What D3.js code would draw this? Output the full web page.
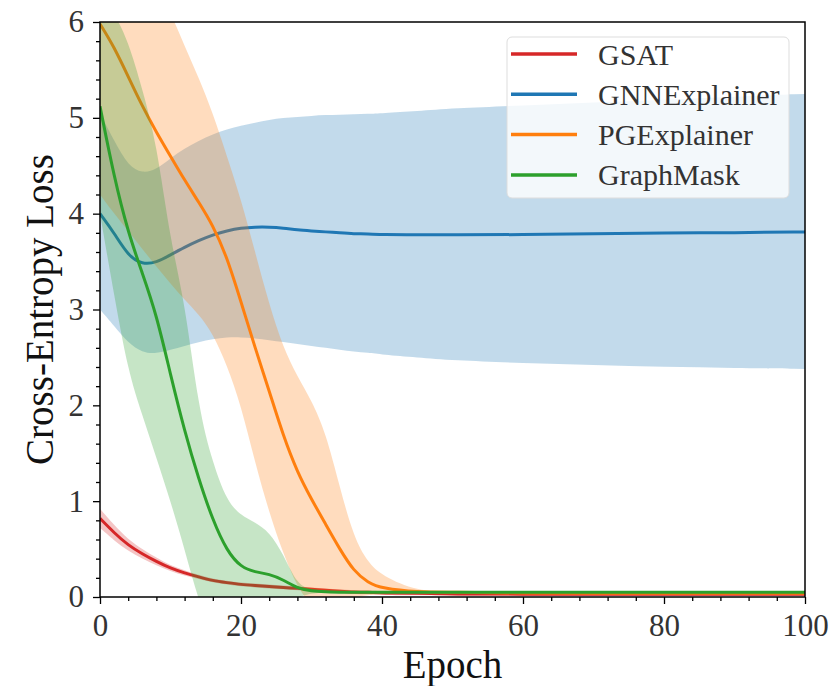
<!DOCTYPE html>
<html>
<head>
<meta charset="utf-8">
<script src="https://cdn.jsdelivr.net/npm/d3@7"></script>
<style>
  body { margin: 0; background: #fff; }
  svg { display: block; }
</style>
</head>
<body>
<div id="chart"></div>
<script>
var epochs = [0, 2, 4, 6, 8, 10, 12, 14, 16, 18, 20, 22, 24, 26, 28, 30, 32, 34, 36, 38, 40, 45, 50, 60, 70, 80, 90, 100];

var seriesNames = ['GSAT', 'GNNExplainer', 'PGExplainer', 'GraphMask'];
var seriesColors = ['#d62728', '#1f77b4', '#ff7f0e', '#2ca02c'];

// GSAT
var gsatMean = [0.82, 0.67, 0.54, 0.45, 0.37, 0.30, 0.25, 0.21, 0.17, 0.15, 0.13, 0.12, 0.11, 0.10, 0.09, 0.08, 0.07, 0.06, 0.05, 0.05, 0.04, 0.04, 0.03, 0.03, 0.03, 0.03, 0.03, 0.03];
var gsatLow = [0.72, 0.59, 0.48, 0.40, 0.33, 0.27, 0.22, 0.19, 0.15, 0.13, 0.11, 0.10, 0.09, 0.08, 0.07, 0.06, 0.05, 0.04, 0.03, 0.03, 0.02, 0.02, 0.01, 0.01, 0.01, 0.01, 0.01, 0.01];
var gsatHigh = [0.92, 0.75, 0.60, 0.50, 0.41, 0.33, 0.28, 0.23, 0.19, 0.17, 0.15, 0.14, 0.13, 0.12, 0.11, 0.10, 0.09, 0.08, 0.07, 0.07, 0.06, 0.06, 0.05, 0.05, 0.05, 0.05, 0.05, 0.05];

// GNNExplainer
var gnnMean = [4.00, 3.80, 3.56, 3.47, 3.49, 3.57, 3.65, 3.72, 3.78, 3.82, 3.85, 3.86, 3.86, 3.85, 3.83, 3.82, 3.81, 3.80, 3.79, 3.79, 3.78, 3.78, 3.78, 3.78, 3.79, 3.80, 3.80, 3.81];
var gnnLow = [3.00, 2.83, 2.65, 2.55, 2.54, 2.58, 2.62, 2.66, 2.69, 2.71, 2.71, 2.70, 2.68, 2.66, 2.64, 2.62, 2.60, 2.58, 2.56, 2.55, 2.53, 2.50, 2.47, 2.44, 2.42, 2.40, 2.39, 2.38];
var gnnHigh = [5.05, 4.76, 4.50, 4.42, 4.46, 4.58, 4.68, 4.76, 4.83, 4.88, 4.92, 4.95, 4.98, 5.00, 5.01, 5.02, 5.03, 5.03, 5.04, 5.04, 5.05, 5.07, 5.10, 5.13, 5.16, 5.19, 5.22, 5.25];

// PGExplainer
var pgMean = [5.98, 5.74, 5.43, 5.12, 4.85, 4.60, 4.35, 4.12, 3.88, 3.55, 3.08, 2.60, 2.15, 1.68, 1.30, 1.02, 0.76, 0.50, 0.27, 0.15, 0.09, 0.05, 0.05, 0.04, 0.04, 0.04, 0.04, 0.04];
var pgLow = [4.20, 4.00, 3.82, 3.63, 3.45, 3.27, 3.10, 2.95, 2.75, 2.42, 2.00, 1.40, 0.88, 0.45, 0.10, -0.10, -0.10, -0.05, 0.00, 0.02, 0.03, 0.03, 0.03, 0.03, 0.03, 0.03, 0.03, 0.03];
var pgHigh = [7.70, 7.40, 7.00, 6.70, 6.40, 6.10, 5.75, 5.42, 5.05, 4.60, 4.15, 3.60, 3.05, 2.60, 2.30, 2.05, 1.72, 1.15, 0.62, 0.36, 0.22, 0.06, 0.05, 0.05, 0.05, 0.05, 0.05, 0.05];

// GraphMask
var gmMean = [5.12, 4.38, 3.80, 3.38, 2.95, 2.32, 1.73, 1.23, 0.80, 0.48, 0.31, 0.26, 0.24, 0.18, 0.09, 0.06, 0.055, 0.05, 0.05, 0.05, 0.05, 0.05, 0.05, 0.05, 0.05, 0.05, 0.05, 0.05];
var gmLow = [4.00, 3.15, 2.35, 1.90, 1.45, 1.00, 0.50, -0.05, -0.40, -0.45, -0.35, -0.30, -0.25, -0.15, 0.00, 0.04, 0.045, 0.04, 0.04, 0.04, 0.04, 0.04, 0.04, 0.04, 0.04, 0.04, 0.04, 0.04];
var gmHigh = [6.25, 6.10, 5.80, 5.30, 4.75, 3.70, 3.10, 1.95, 1.40, 1.00, 0.85, 0.78, 0.68, 0.45, 0.12, 0.08, 0.065, 0.06, 0.06, 0.06, 0.06, 0.06, 0.06, 0.06, 0.06, 0.06, 0.06, 0.06];

var xTicks = [0, 20, 40, 60, 80, 100];
var yTicks = [0, 1, 2, 3, 4, 5, 6];

(function() {
  var width = 832;
  var height = 686;
  var margin = { top: 22, right: 27, bottom: 89, left: 100 };
  var plotW = width - margin.left - margin.right;
  var plotH = height - margin.top - margin.bottom;
  var serif = '"Liberation Serif", "DejaVu Serif", serif';

  var series = [
    { mean: gsatMean, low: gsatLow, high: gsatHigh },
    { mean: gnnMean, low: gnnLow, high: gnnHigh },
    { mean: pgMean, low: pgLow, high: pgHigh },
    { mean: gmMean, low: gmLow, high: gmHigh }
  ].map(function(s, i) {
    s.name = seriesNames[i];
    s.color = seriesColors[i];
    s.points = epochs.map(function(e, j) {
      return { e: e, m: s.mean[j], lo: s.low[j], hi: s.high[j] };
    });
    return s;
  });

  var x = d3.scaleLinear().domain([0, 100]).range([0, plotW]);
  var y = d3.scaleLinear().domain([0, 6]).range([plotH, 0]);

  var svg = d3.select('#chart').append('svg').attr('width', width).attr('height', height);
  var g = svg.append('g').attr('transform', 'translate(' + margin.left + ',' + margin.top + ')');

  svg.append('defs').append('clipPath').attr('id', 'plotClip')
    .append('rect').attr('width', plotW).attr('height', plotH);

  // smooth curves, like the smoothed training logs
  var area = d3.area()
    .x(function(d) { return x(d.e); })
    .y0(function(d) { return y(d.lo); })
    .y1(function(d) { return y(d.hi); })
    .curve(d3.curveBasis);

  var line = d3.line()
    .x(function(d) { return x(d.e); })
    .y(function(d) { return y(d.m); })
    .curve(d3.curveBasis);

  var plot = g.append('g').attr('clip-path', 'url(#plotClip)');

  series.forEach(function(s) {
    plot.append('path')
      .attr('d', area(s.points))
      .attr('fill', s.color)
      .attr('fill-opacity', 0.27);
    plot.append('path')
      .attr('d', line(s.points))
      .attr('fill', 'none')
      .attr('stroke', s.color)
      .attr('stroke-width', 3);
  });

  // Axes: major and minor ticks, outward
  var xMinor = d3.range(0, 101, 4).filter(function(v) { return v % 20 !== 0; });
  var yMinor = d3.range(0, 6.01, 0.2).filter(function(v) { return Math.abs(v - Math.round(v)) > 0.01; });

  g.append('g').attr('transform', 'translate(0,' + plotH + ')')
    .call(d3.axisBottom(x).tickValues(xMinor).tickSize(4).tickFormat(''))
    .call(styleAxis);
  g.append('g').attr('transform', 'translate(0,' + plotH + ')')
    .call(d3.axisBottom(x).tickValues(xTicks).tickSize(7).tickPadding(10).tickFormat(d3.format('d')))
    .call(styleAxis);
  g.append('g')
    .call(d3.axisLeft(y).tickValues(yMinor).tickSize(4).tickFormat(''))
    .call(styleAxis);
  g.append('g')
    .call(d3.axisLeft(y).tickValues(yTicks).tickSize(7).tickPadding(9).tickFormat(d3.format('d')))
    .call(styleAxis);

  g.append('rect')
    .attr('width', plotW).attr('height', plotH)
    .attr('fill', 'none').attr('stroke', '#000').attr('stroke-width', 1.5);

  svg.append('text')
    .attr('x', margin.left + plotW / 2).attr('y', 678)
    .attr('text-anchor', 'middle')
    .style('font-family', serif).style('font-size', '39px').style('fill', '#111')
    .text('Epoch');

  svg.append('text')
    .attr('transform', 'translate(53,' + (margin.top + plotH / 2) + ') rotate(-90)')
    .attr('text-anchor', 'middle')
    .style('font-family', serif).style('font-size', '39px').style('fill', '#111')
    .text('Cross-Entropy Loss');

  renderLegend();

  function styleAxis(sel) {
    sel.attr('font-family', null).attr('font-size', null);
    sel.select('.domain').remove();
    sel.selectAll('.tick line').attr('stroke', '#000').attr('stroke-width', 1.3);
    sel.selectAll('.tick text')
      .style('font-family', serif).style('font-size', '31px').style('fill', '#333');
  }

  function renderLegend() {
    var legend = svg.append('g').attr('transform', 'translate(507,37)');
    legend.append('rect')
      .attr('width', 282).attr('height', 161).attr('rx', 5)
      .attr('fill', '#fff').attr('fill-opacity', 0.8)
      .attr('stroke', '#ddd').attr('stroke-width', 1);
    var item = legend.selectAll('.item').data(series).enter()
      .append('g').attr('class', 'item')
      .attr('transform', function(d, i) { return 'translate(0,' + (17 + i * 40.3) + ')'; });
    item.append('line')
      .attr('x1', 4).attr('x2', 70)
      .attr('stroke', function(d) { return d.color; })
      .attr('stroke-width', 3.5);
    item.append('text')
      .attr('x', 91).attr('dy', '0.35em')
      .style('font-family', serif).style('font-size', '30px').style('fill', '#333')
      .text(function(d) { return d.name; });
  }
}).call(this);
</script>
</body>
</html>
